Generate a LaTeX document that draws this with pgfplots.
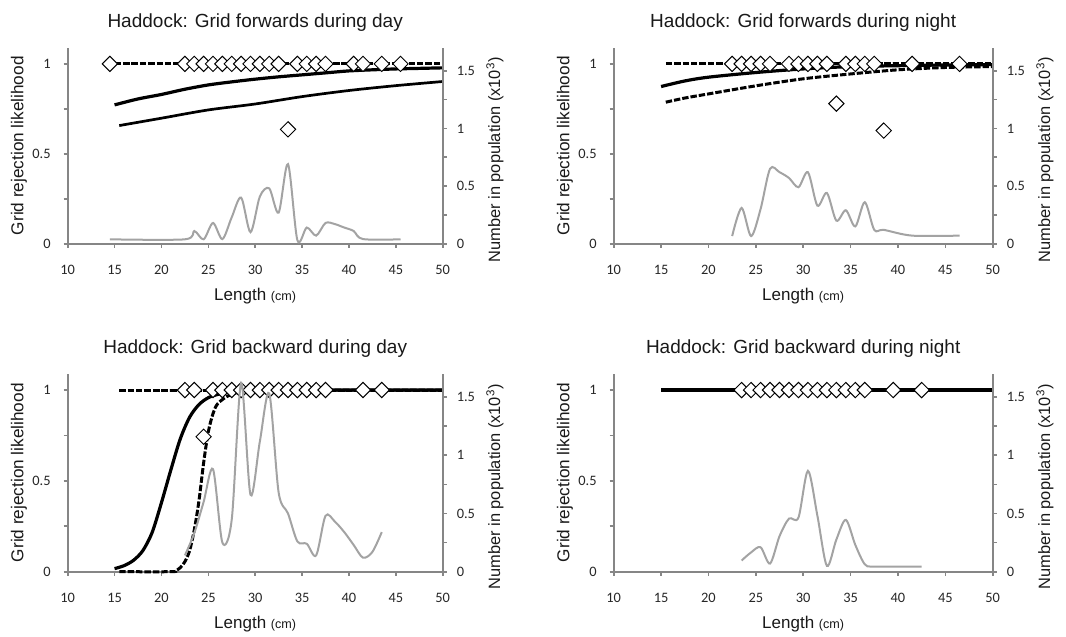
\documentclass[border=0pt]{standalone}
\usepackage{fontspec}
\setmainfont{Liberation Sans}
\newfontfamily\calibri{Carlito}
\usepackage{pgfplots}
\pgfplotsset{compat=1.18}

\definecolor{axgray}{RGB}{134,134,134}
\definecolor{popgray}{RGB}{163,163,163}

\pgfplotsset{
  base/.style={scale only axis, xmin=10, xmax=50, xtick={10,15,...,50},
    axis line style={axgray, line width=0.8pt},
    tick style={axgray, line width=0.8pt},
    major tick length=2pt, minor tick length=2pt, tick align=outside,
    tick label style={font=\calibri\fontsize{7.2}{8}\selectfont, text=black!85},
    /pgf/number format/assume math mode=true, clip=false},
  leftax/.style={base, ymin=0, ymax=1.09, ytick={0,0.5,1}, minor ytick={0.25,0.75},
    axis x line*=bottom, axis y line*=left,
    xticklabel style={yshift=-5pt}, yticklabel style={xshift=-3pt},
    title style={at={(axis description cs:0.5,1)}, anchor=base, yshift=4.3pt,
      font=\fontsize{9.5}{11}\selectfont, text=black!90},
    xlabel={Length {\fontsize{6.3}{7}\selectfont(cm)}},
    xlabel style={at={([yshift=-28.3pt]axis description cs:0.5,0)}, anchor=base,
      font=\fontsize{8.5}{10}\selectfont, text=black!90},
    ylabel={Grid rejection likelihood},
    ylabel style={at={([xshift=-22.2pt]axis description cs:0,0.5)}, anchor=base,
      font=\fontsize{8.6}{10}\selectfont, text=black!90}},
  rightax/.style={base, ymin=0, ymax=1.7, ytick={0,0.5,1,1.5}, minor ytick={0.25,0.75,1.25},
    axis y line*=right, axis x line=none, yticklabel style={xshift=1.5pt},
    ylabel={Number in population (x10\textsuperscript{3})},
    ylabel style={at={([xshift=28.7pt,yshift=-7pt]axis description cs:1,0.5)}, anchor=base,
      font=\fontsize{8.2}{10}\selectfont, text=black!90}},
  ci/.style={black, line width=1.5pt, dash pattern=on 3.2pt off 1pt, smooth},
  mean/.style={black, line width=1.6pt, smooth},
  obs/.style={only marks, mark=square*, mark size=2.7pt,
    mark options={fill=white, draw=black, line width=0.5pt, rotate=45, solid}},
  pop/.style={popgray, line width=1pt, smooth, tension=0.5}
}

\begin{document}
\begin{tikzpicture}
\useasboundingbox (0,0) rectangle (533pt,-318.5pt);

% ---- top left
\begin{axis}[leftax, at={(33.85pt,-121.85pt)}, anchor=south west, width=187.5pt, height=98pt,
  title={Haddock: Grid forwards during day}]
\addplot[ci] coordinates {(15,1) (50,1)};
\addplot[mean] coordinates {(15,0.772) (17.5,0.805) (20,0.83) (22.5,0.859) (25,0.883) (27.5,0.90) (30,0.915) (32.5,0.928) (35,0.939) (37.5,0.95) (40,0.961) (42.5,0.967) (45,0.972) (47.5,0.975) (50,0.978)};
\addplot[black, line width=1.35pt, smooth] coordinates {(15.5,0.657) (20,0.698) (25,0.744) (30,0.777) (35,0.818) (40,0.852) (45,0.879) (50,0.902)};
\addplot[obs] coordinates {(14.5,1) (22.5,1) (23.5,1) (24.5,1) (25.5,1) (26.5,1) (27.5,1) (28.5,1) (29.5,1) (30.5,1) (31.5,1) (32.5,1) (33.5,0.636) (34.5,1) (35.5,1) (36.5,1) (37.5,1) (40.5,1) (41.5,1) (43.5,1) (45.5,1)};
\end{axis}
\begin{axis}[rightax, at={(33.85pt,-121.85pt)}, anchor=south west, width=187.5pt, height=98pt]
\addplot[pop] coordinates {(14.5,0.038) (22.5,0.038) (23.5,0.11) (24.5,0.038) (25.5,0.18) (26.5,0.04) (27.5,0.23) (28.5,0.40) (29.5,0.10) (30.5,0.41) (31.5,0.48) (32.5,0.27) (33.5,0.69) (34.5,0.03) (35.5,0.14) (36.5,0.07) (37.5,0.18) (38.5,0.17) (39.5,0.14) (40.5,0.11) (41.5,0.04) (45.5,0.038)};
\end{axis}

% ---- top right
\begin{axis}[leftax, at={(306.85pt,-121.85pt)}, anchor=south west, width=189.5pt, height=98pt,
  title={Haddock: Grid forwards during night}]
\addplot[ci] coordinates {(15.5,1) (50,1)};
\addplot[mean] coordinates {(15,0.874) (17.5,0.905) (20,0.926) (25,0.952) (30,0.972) (35,0.985) (40,0.99) (45,0.994) (50,0.996)};
\addplot[ci] coordinates {(15.5,0.787) (17.5,0.81) (20,0.833) (25,0.878) (30,0.917) (35,0.944) (40,0.967) (45,0.98) (50,0.985)};
\addplot[obs] coordinates {(22.5,1) (23.5,1) (24.5,1) (25.5,1) (26.5,1) (28.5,1) (29.5,1) (30.5,1) (31.5,1) (32.5,1) (33.5,0.779) (34.5,1) (35.5,1) (36.5,1) (37.5,1) (38.5,0.629) (41.5,1) (46.5,1)};
\end{axis}
\begin{axis}[rightax, at={(306.85pt,-121.85pt)}, anchor=south west, width=189.5pt, height=98pt]
\addplot[pop] coordinates {(22.5,0.066) (23.5,0.31) (24.5,0.066) (25.5,0.30) (26.5,0.65) (27.5,0.62) (28.5,0.57) (29.5,0.49) (30.5,0.62) (31.5,0.33) (32.5,0.44) (33.5,0.20) (34.5,0.29) (35.5,0.15) (36.5,0.36) (37.5,0.12) (38.5,0.12) (41.5,0.07) (46.5,0.07)};
\end{axis}

% ---- bottom left
\begin{axis}[leftax, at={(33.85pt,-285.85pt)}, anchor=south west, width=187.5pt, height=99pt,
  title={Haddock: Grid backward during day}]
\addplot[ci] coordinates {(15.5,1) (50,1)};
\addplot[mean] coordinates {(15,0.017) (16,0.033) (17,0.062) (18,0.115) (19,0.215) (20,0.38) (21,0.56) (22,0.73) (23,0.85) (24,0.92) (25,0.958) (26,0.976) (27,0.987) (28,0.993) (30,0.998) (35,1) (50,1)};
\addplot[ci] coordinates {(15.5,0) (21,0) (21.5,0.005) (22,0.022) (22.5,0.055) (23,0.115) (23.5,0.23) (24,0.39) (24.5,0.60) (25,0.77) (25.5,0.87) (26,0.925) (27,0.965) (28,0.985) (30,0.997) (35,1) (50,1)};
\addplot[obs] coordinates {(22.5,1) (23.5,1) (24.5,0.743) (25.5,1) (26.5,1) (27.5,1) (28.5,1) (29.5,1) (30.5,1) (31.5,1) (32.5,1) (33.5,1) (34.5,1) (35.5,1) (36.5,1) (37.5,1) (41.5,1) (43.5,1)};
\end{axis}
\begin{axis}[rightax, at={(33.85pt,-285.85pt)}, anchor=south west, width=187.5pt, height=99pt]
\addplot[pop] coordinates {(22.5,0.14) (23.5,0.33) (24.5,0.6) (25.5,0.88) (26.5,0.25) (27.5,0.45) (28.5,1.62) (29.5,0.66) (30.5,1.12) (31.5,1.53) (32.5,0.68) (33.5,0.5) (34.5,0.26) (35.5,0.24) (36.5,0.14) (37.5,0.48) (38.5,0.43) (39.5,0.34) (40.5,0.23) (41.5,0.12) (42.5,0.17) (43.5,0.34)};
\end{axis}

% ---- bottom right
\begin{axis}[leftax, at={(306.85pt,-285.85pt)}, anchor=south west, width=189.5pt, height=99pt,
  title={Haddock: Grid backward during night}]
\addplot[ci] coordinates {(15,1) (50,1)};
\addplot[mean] coordinates {(15,1) (50,1)};
\addplot[obs] coordinates {(23.5,1) (24.5,1) (25.5,1) (26.5,1) (27.5,1) (28.5,1) (29.5,1) (30.5,1) (31.5,1) (32.5,1) (33.5,1) (34.5,1) (35.5,1) (36.5,1) (39.5,1) (42.5,1)};
\end{axis}
\begin{axis}[rightax, at={(306.85pt,-285.85pt)}, anchor=south west, width=189.5pt, height=99pt]
\addplot[pop] coordinates {(23.5,0.096) (24.5,0.166) (25.5,0.21) (26.5,0.07) (27.5,0.305) (28.5,0.456) (29.5,0.465) (30.5,0.866) (31.5,0.48) (32.5,0.05) (33.5,0.276) (34.5,0.445) (35.5,0.23) (36.5,0.064) (37.5,0.044) (42.5,0.044)};
\end{axis}
\end{tikzpicture}
\end{document}
